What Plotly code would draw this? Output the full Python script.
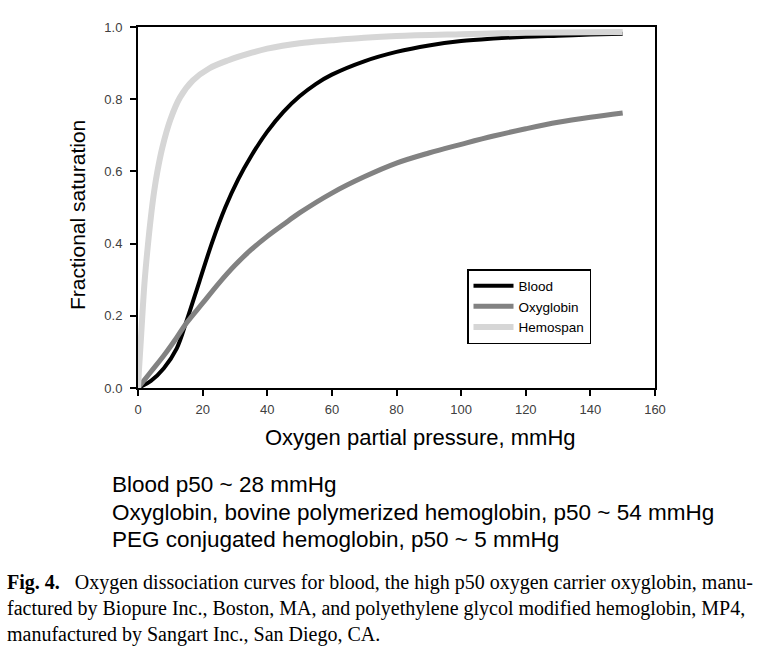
import plotly.graph_objects as go

# ---- data ----
blood_x = [0, 4, 8, 12, 15, 19, 23, 27, 31, 35, 40, 45, 50, 55, 60, 70, 80, 90, 100, 110, 120, 130, 140, 150]
blood_y = [0, 0.02, 0.055, 0.11, 0.185, 0.295, 0.405, 0.50, 0.578, 0.642, 0.71, 0.765, 0.808, 0.842, 0.868,
           0.905, 0.931, 0.949, 0.961, 0.968, 0.973, 0.976, 0.979, 0.981]

oxy_x = [0, 4, 8, 12, 15, 20, 25, 30, 35, 40, 45, 50, 60, 70, 80, 90, 100, 110, 120, 130, 140, 150]
oxy_y = [0, 0.045, 0.09, 0.14, 0.18, 0.235, 0.29, 0.34, 0.383, 0.42, 0.453, 0.485, 0.54, 0.585, 0.623, 0.651,
         0.675, 0.698, 0.718, 0.736, 0.75, 0.762]

hemo_x = [0, 0.3, 1, 2, 3, 4, 5, 6, 7.5, 10, 13, 17, 22, 28, 35, 40, 50, 60, 70, 80, 100, 120, 150]
hemo_y = [0, 0.05, 0.15, 0.29, 0.39, 0.475, 0.545, 0.60, 0.665, 0.743, 0.805, 0.852, 0.885, 0.908, 0.928, 0.94,
          0.955, 0.963, 0.97, 0.975, 0.98, 0.984, 0.986]

x_ticks = [0, 20, 40, 60, 80, 100, 120, 140, 160]
y_ticks = [0.0, 0.2, 0.4, 0.6, 0.8, 1.0]

x_title = "Oxygen partial pressure, mmHg"
y_title = "Fractional saturation"
notes = ["Blood p50 ~ 28 mmHg",
         "Oxyglobin, bovine polymerized hemoglobin, p50 ~ 54 mmHg",
         "PEG conjugated hemoglobin, p50 ~ 5 mmHg"]
caption = ["<b>Fig. 4.</b>   Oxygen dissociation curves for blood, the high p50 oxygen carrier oxyglobin, manu-",
           "factured by Biopure Inc., Boston, MA, and polyethylene glycol modified hemoglobin, MP4,",
           "manufactured by Sangart Inc., San Diego, CA."]

# ---- layout geometry ----
W, H = 784, 662
L, R, T, B = 138, 655, 27, 388
SANS = "Liberation Sans, Arial"
SERIF = "Liberation Serif, Times New Roman"


def px(xp):
    return (xp - L) / (R - L)


def py(yp):
    return (B - yp) / (B - T)


fig = go.Figure()
fig.add_trace(go.Scatter(x=blood_x, y=blood_y, mode="lines", name="Blood",
                         line=dict(color="#000000", width=4, shape="spline", smoothing=1.0)))
fig.add_trace(go.Scatter(x=oxy_x, y=oxy_y, mode="lines", name="Oxyglobin",
                         line=dict(color="#828282", width=5, shape="spline", smoothing=1.0)))
fig.add_trace(go.Scatter(x=hemo_x, y=hemo_y, mode="lines", name="Hemospan",
                         line=dict(color="#d6d6d6", width=6, shape="spline", smoothing=1.0)))

axis_common = dict(showgrid=False, zeroline=False, showline=True, linecolor="black", linewidth=2,
                   mirror=True, ticks="outside", ticklen=6, tickwidth=1.5, tickcolor="black",
                   tickfont=dict(family=SANS, size=13, color="#404040"))

fig.update_xaxes(range=[0, 160], tickvals=x_ticks, ticktext=[str(v) for v in x_ticks],
                 ticklabelstandoff=2, **axis_common)
fig.update_yaxes(range=[0, 1.0], tickvals=y_ticks, ticktext=[f"{v:.1f}" for v in y_ticks],
                 ticklabelstandoff=5, **axis_common)

annotations = [
    dict(text=x_title, xref="paper", yref="paper", x=px(420), y=py(437), xanchor="center", yanchor="middle",
         showarrow=False, font=dict(family=SANS, size=22, color="black")),
    dict(text=y_title, xref="paper", yref="paper", x=px(77), y=py(215), xanchor="center", yanchor="middle",
         textangle=-90, showarrow=False, font=dict(family=SANS, size=21, color="black")),
]
for i, t in enumerate(notes):
    annotations.append(dict(text=t, xref="paper", yref="paper", x=px(110), y=py(485 + 27 * i),
                            xanchor="left", yanchor="middle", showarrow=False,
                            font=dict(family=SANS, size=22.5, color="black")))
for i, t in enumerate(caption):
    annotations.append(dict(text=t, xref="paper", yref="paper", x=px(5), y=py(582 + 26 * i),
                            xanchor="left", yanchor="middle", showarrow=False,
                            font=dict(family=SERIF, size=20, color="black")))

fig.update_layout(
    width=W, height=H,
    margin=dict(l=L, r=W - R, t=T, b=H - B),
    paper_bgcolor="white", plot_bgcolor="white",
    showlegend=True,
    legend=dict(x=px(467), y=py(269), xanchor="left", yanchor="top",
                bgcolor="white", bordercolor="black", borderwidth=1.5,
                font=dict(family=SANS, size=13.5, color="black"),
                itemwidth=40, tracegroupgap=0),
    annotations=annotations,
)

fig.write_html("out.html", config={"displayModeBar": False},
               post_script="document.body.style.margin='0px';")
